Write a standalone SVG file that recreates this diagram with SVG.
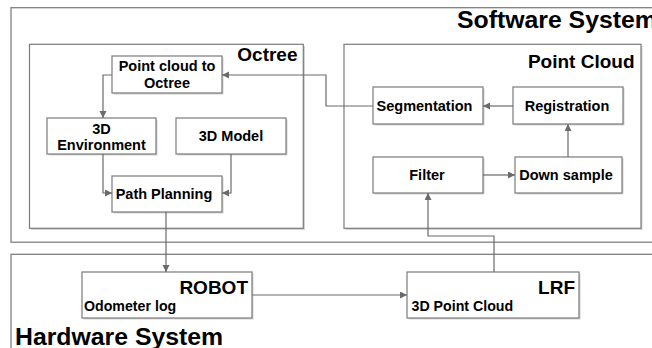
<svg xmlns="http://www.w3.org/2000/svg" width="652" height="348" viewBox="0 0 652 348">
<defs>
<style>
.frame{fill:#fff;stroke:#808080;stroke-width:1.3}
.box{fill:#fff;stroke:#7a7a7a;stroke-width:1.2}
.sh{fill:#d4d4d4}
.t{font-family:"Liberation Sans",Arial,sans-serif;font-weight:bold;fill:#000}
.n{font-size:14.5px;text-anchor:middle}
.ti{font-size:19px;text-anchor:end}
.big{font-size:24.8px}
.sm{font-size:14.2px}
.c{fill:none;stroke:#6a6a6a;stroke-width:1.2}
</style>
<marker id="ah" markerUnits="userSpaceOnUse" markerWidth="8" markerHeight="8" refX="7" refY="3.5" orient="auto">
<path d="M0,0 L7,3.5 L0,7 z" fill="#6a6a6a"/>
</marker>
</defs>
<rect width="652" height="348" fill="#fff"/>

<g id="software-system">
<rect class="frame" x="11" y="7.7" width="660" height="234.5"/>
<text class="t big" x="457" y="27.7">Software System</text>
</g>

<g id="hardware-system">
<rect class="frame" x="11" y="254.3" width="660" height="110"/>
<text class="t big" x="15" y="344.7">Hardware System</text>
</g>

<g id="octree">
<rect class="sh" x="31" y="46" width="274" height="184"/>
<rect class="box" x="29.5" y="44.3" width="273.8" height="184"/>
<text class="t ti" x="297.5" y="61">Octree</text>
</g>

<g id="point-cloud">
<rect class="sh" x="345.5" y="46" width="297" height="184"/>
<rect class="box" x="344" y="44.3" width="297" height="184"/>
<text class="t ti" x="634.5" y="67.7">Point Cloud</text>
</g>

<g id="pc-to-octree">
<rect class="sh" x="113.5" y="57.5" width="110" height="37"/>
<rect class="box" x="112" y="56" width="110" height="37"/>
<text class="t n" x="167" y="71">Point cloud to</text>
<text class="t n" x="167" y="87.7">Octree</text>
</g>

<g id="env3d">
<rect class="sh" x="48.5" y="119.5" width="109" height="36"/>
<rect class="box" x="47" y="118" width="109" height="36"/>
<text class="t n" x="101.5" y="134">3D</text>
<text class="t n" x="101.5" y="149.5">Environment</text>
</g>

<g id="model3d">
<rect class="sh" x="177.5" y="119.5" width="110" height="36"/>
<rect class="box" x="176" y="118" width="110" height="36"/>
<text class="t n" x="231" y="140.5">3D Model</text>
</g>

<g id="path-planning">
<rect class="sh" x="113.5" y="177.5" width="110" height="36"/>
<rect class="box" x="112" y="176" width="110" height="36"/>
<text class="t n" x="164" y="198.5">Path Planning</text>
</g>

<g id="segmentation">
<rect class="sh" x="374.5" y="88.5" width="110" height="37"/>
<rect class="box" x="373" y="87" width="110" height="37"/>
<text class="t n" x="424.5" y="110.5">Segmentation</text>
</g>

<g id="registration">
<rect class="sh" x="514.5" y="88.5" width="110" height="37"/>
<rect class="box" x="513" y="87" width="110" height="37"/>
<text class="t n" x="567" y="110.5">Registration</text>
</g>

<g id="filter">
<rect class="sh" x="374.5" y="158.5" width="110" height="36"/>
<rect class="box" x="373" y="157" width="110" height="36"/>
<text class="t n" x="427" y="180">Filter</text>
</g>

<g id="down-sample">
<rect class="sh" x="516.5" y="158.5" width="107" height="36"/>
<rect class="box" x="515" y="157" width="107" height="36"/>
<text class="t n" x="566" y="180">Down sample</text>
</g>

<g id="robot">
<rect class="sh" x="83.5" y="273.5" width="170" height="46"/>
<rect class="box" x="82" y="272" width="170" height="46"/>
<text class="t ti" x="248" y="294.3">ROBOT</text>
<text class="t sm" x="84" y="310.5">Odometer log</text>
</g>

<g id="lrf">
<rect class="sh" x="408.5" y="273.5" width="172" height="46"/>
<rect class="box" x="407" y="272" width="172" height="46"/>
<text class="t ti" x="575" y="294.3">LRF</text>
<text class="t sm" x="411.5" y="310.7">3D Point Cloud</text>
</g>

<g id="connectors">
<polyline class="c" points="373,106 326,106 326,75 222,75" marker-end="url(#ah)"/>
<polyline class="c" points="513,106 483,106" marker-end="url(#ah)"/>
<polyline class="c" points="568,157 568,124" marker-end="url(#ah)"/>
<polyline class="c" points="483,175 515,175" marker-end="url(#ah)"/>
<polyline class="c" points="494,272 494,236 428,236 428,193" marker-end="url(#ah)"/>
<polyline class="c" points="252,295 407,295" marker-end="url(#ah)"/>
<polyline class="c" points="166,212 166,272" marker-end="url(#ah)"/>
<polyline class="c" points="112,75 103,75 103,118" marker-end="url(#ah)"/>
<polyline class="c" points="103,154 103,193 112,193" marker-end="url(#ah)"/>
<polyline class="c" points="231,154 231,193 222,193" marker-end="url(#ah)"/>
</g>
</svg>
